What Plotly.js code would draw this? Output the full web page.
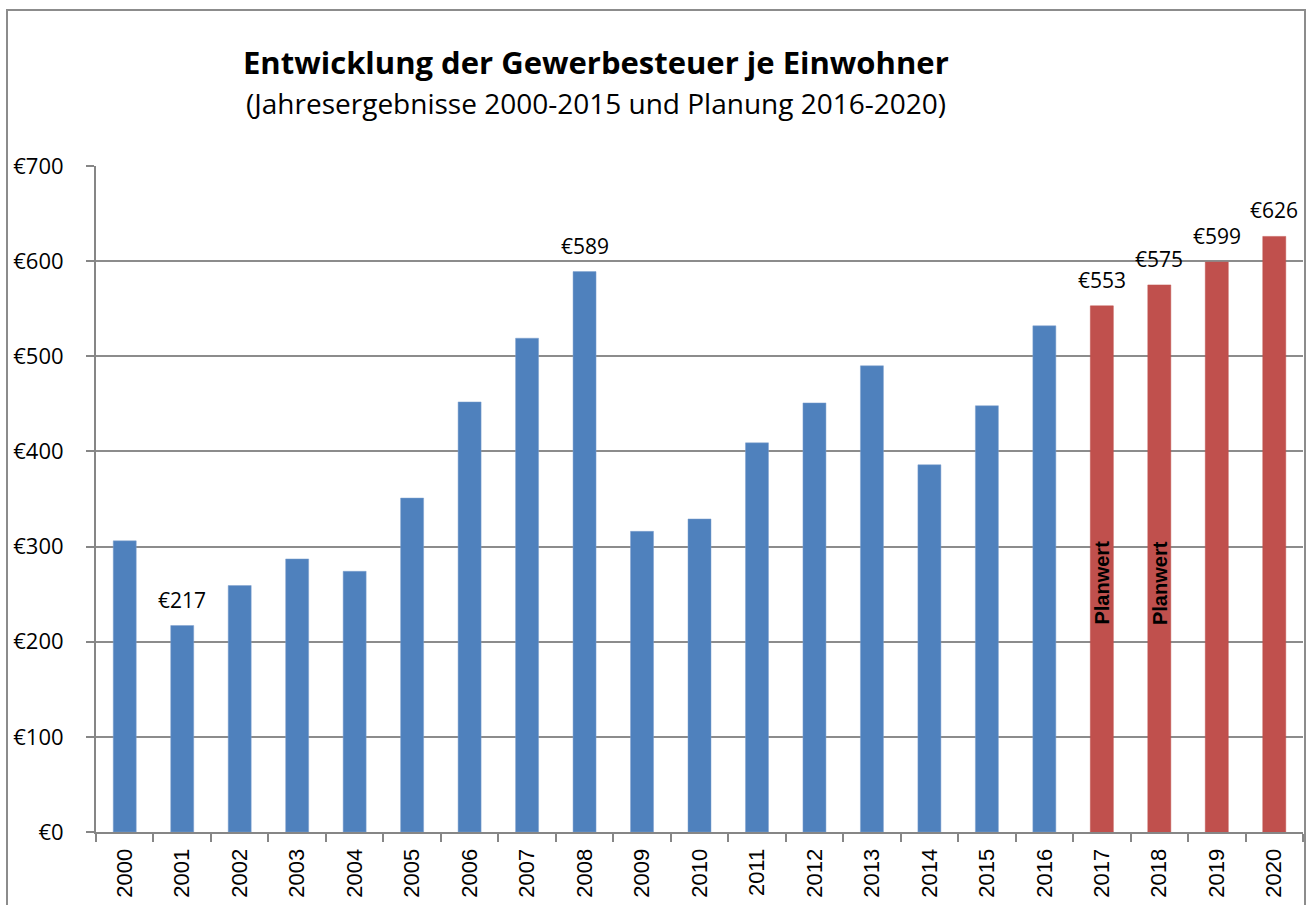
<!DOCTYPE html>
<html>
<head>
<meta charset="utf-8">
<script src="https://cdn.plot.ly/plotly-3.0.1.min.js"></script>
<style>html,body{margin:0;padding:0;background:#fff;}</style>
</head>
<body>
<div id="chart" style="width:1309px;height:905px;"></div>
<script>
// Data
const years = ["2000","2001","2002","2003","2004","2005","2006","2007","2008","2009","2010","2011","2012","2013","2014","2015","2016","2017","2018","2019","2020"];
const actualYears = ["2000","2001","2002","2003","2004","2005","2006","2007","2008","2009","2010","2011","2012","2013","2014","2015","2016"];
const actualValues = [306, 217, 259, 287, 274, 351, 452, 519, 589, 316, 329, 409, 451, 490, 386, 448, 532];
const planYears = ["2017","2018","2019","2020"];
const planValues = [553, 575, 599, 626];
const labeledActualYears = ["2001", "2008"];
const planwertYears = ["2017", "2018"];
const planwertLabel = "Planwert";
const titleText = "Entwicklung der Gewerbesteuer je Einwohner";
const subtitleText = "(Jahresergebnisse 2000-2015 und Planung 2016-2020)";

const fmt = v => "€" + v;

const traces = [
  {type: "bar", x: actualYears, y: actualValues, marker: {color: "#4F81BD", line: {color: "#7FA0CF", width: 0.5}}, hoverinfo: "x+y"},
  {type: "bar", x: planYears, y: planValues, marker: {color: "#C0504D", line: {color: "#C0504D", width: 0.5}}, hoverinfo: "x+y"}
];

const L = 96, R = 6, T = 166, B = 73, W = 1309, H = 905;
const pw = W - L - R, ph = H - T - B;
const px2x = px => (px - L) / pw;
const py2y = py => (H - B - py) / ph;

const labelFont = {family: "Open Sans, sans-serif", size: 21, color: "#000"};
const annotations = [
  {xref: "paper", yref: "paper", x: px2x(596), y: py2y(62), text: "<b>" + titleText + "</b>", showarrow: false,
   font: {family: "Open Sans, sans-serif", size: 31, color: "#000"}, xanchor: "center", yanchor: "middle"},
  {xref: "paper", yref: "paper", x: px2x(596), y: py2y(103), text: subtitleText, showarrow: false,
   font: {family: "Open Sans, sans-serif", size: 28, color: "#000"}, xanchor: "center", yanchor: "middle"}
];
// value labels (data-driven, positioned by the axes)
actualYears.forEach((y, i) => {
  if (labeledActualYears.includes(y)) annotations.push({
    x: years.indexOf(y), y: actualValues[i], xref: "x", yref: "y", text: fmt(actualValues[i]), showarrow: false,
    yanchor: "bottom", xanchor: "center", yshift: 10, font: labelFont
  });
});
planYears.forEach((y, i) => annotations.push({
  x: years.indexOf(y), y: planValues[i], xref: "x", yref: "y", text: fmt(planValues[i]), showarrow: false,
  yanchor: "bottom", xanchor: "center", yshift: 10, font: labelFont
}));
planwertYears.forEach(y => annotations.push({
  x: years.indexOf(y), y: 262, xref: "x", yref: "y", text: "<b>" + planwertLabel + "</b>", textangle: -90, showarrow: false,
  font: {family: "Liberation Sans, Arial, sans-serif", size: 20, color: "#000"}
}));

const layout = {
  width: W, height: H,
  margin: {l: L, r: R, t: T, b: B},
  paper_bgcolor: "#fff", plot_bgcolor: "#fff",
  showlegend: false,
  barmode: "overlay",
  bargap: 0.6,
  xaxis: {
    type: "category", categoryorder: "array", categoryarray: years,
    range: [-0.5, years.length - 0.5], autorange: false,
    tickangle: -90, ticks: "outside", tickson: "boundaries", ticklen: 8, tickcolor: "#868686", tickwidth: 2,
    showline: true, linecolor: "#868686", linewidth: 2,
    tickfont: {family: "Liberation Sans, Arial, sans-serif", size: 22, color: "#000"},
    ticklabelstandoff: 6,
    showgrid: false, fixedrange: true
  },
  yaxis: {
    range: [0, 700], autorange: false, dtick: 100, tickprefix: "€",
    ticks: "outside", ticklen: 8, tickcolor: "#868686", tickwidth: 2,
    showline: true, linecolor: "#868686", linewidth: 2,
    gridcolor: "#8C8C8C", gridwidth: 2,
    zeroline: false,
    tickfont: {family: "Open Sans, sans-serif", size: 22, color: "#000"},
    ticklabelstandoff: 18, fixedrange: true
  },
  annotations: annotations,
  shapes: [
    {type: "rect", xref: "paper", yref: "paper", x0: px2x(7), x1: px2x(1305), y0: py2y(915), y1: py2y(10),
     line: {color: "#8C8C8C", width: 2}, fillcolor: "rgba(0,0,0,0)", layer: "below"}
  ]
};

Plotly.newPlot("chart", traces, layout, {displayModeBar: false, staticPlot: true});
</script>
</body>
</html>
